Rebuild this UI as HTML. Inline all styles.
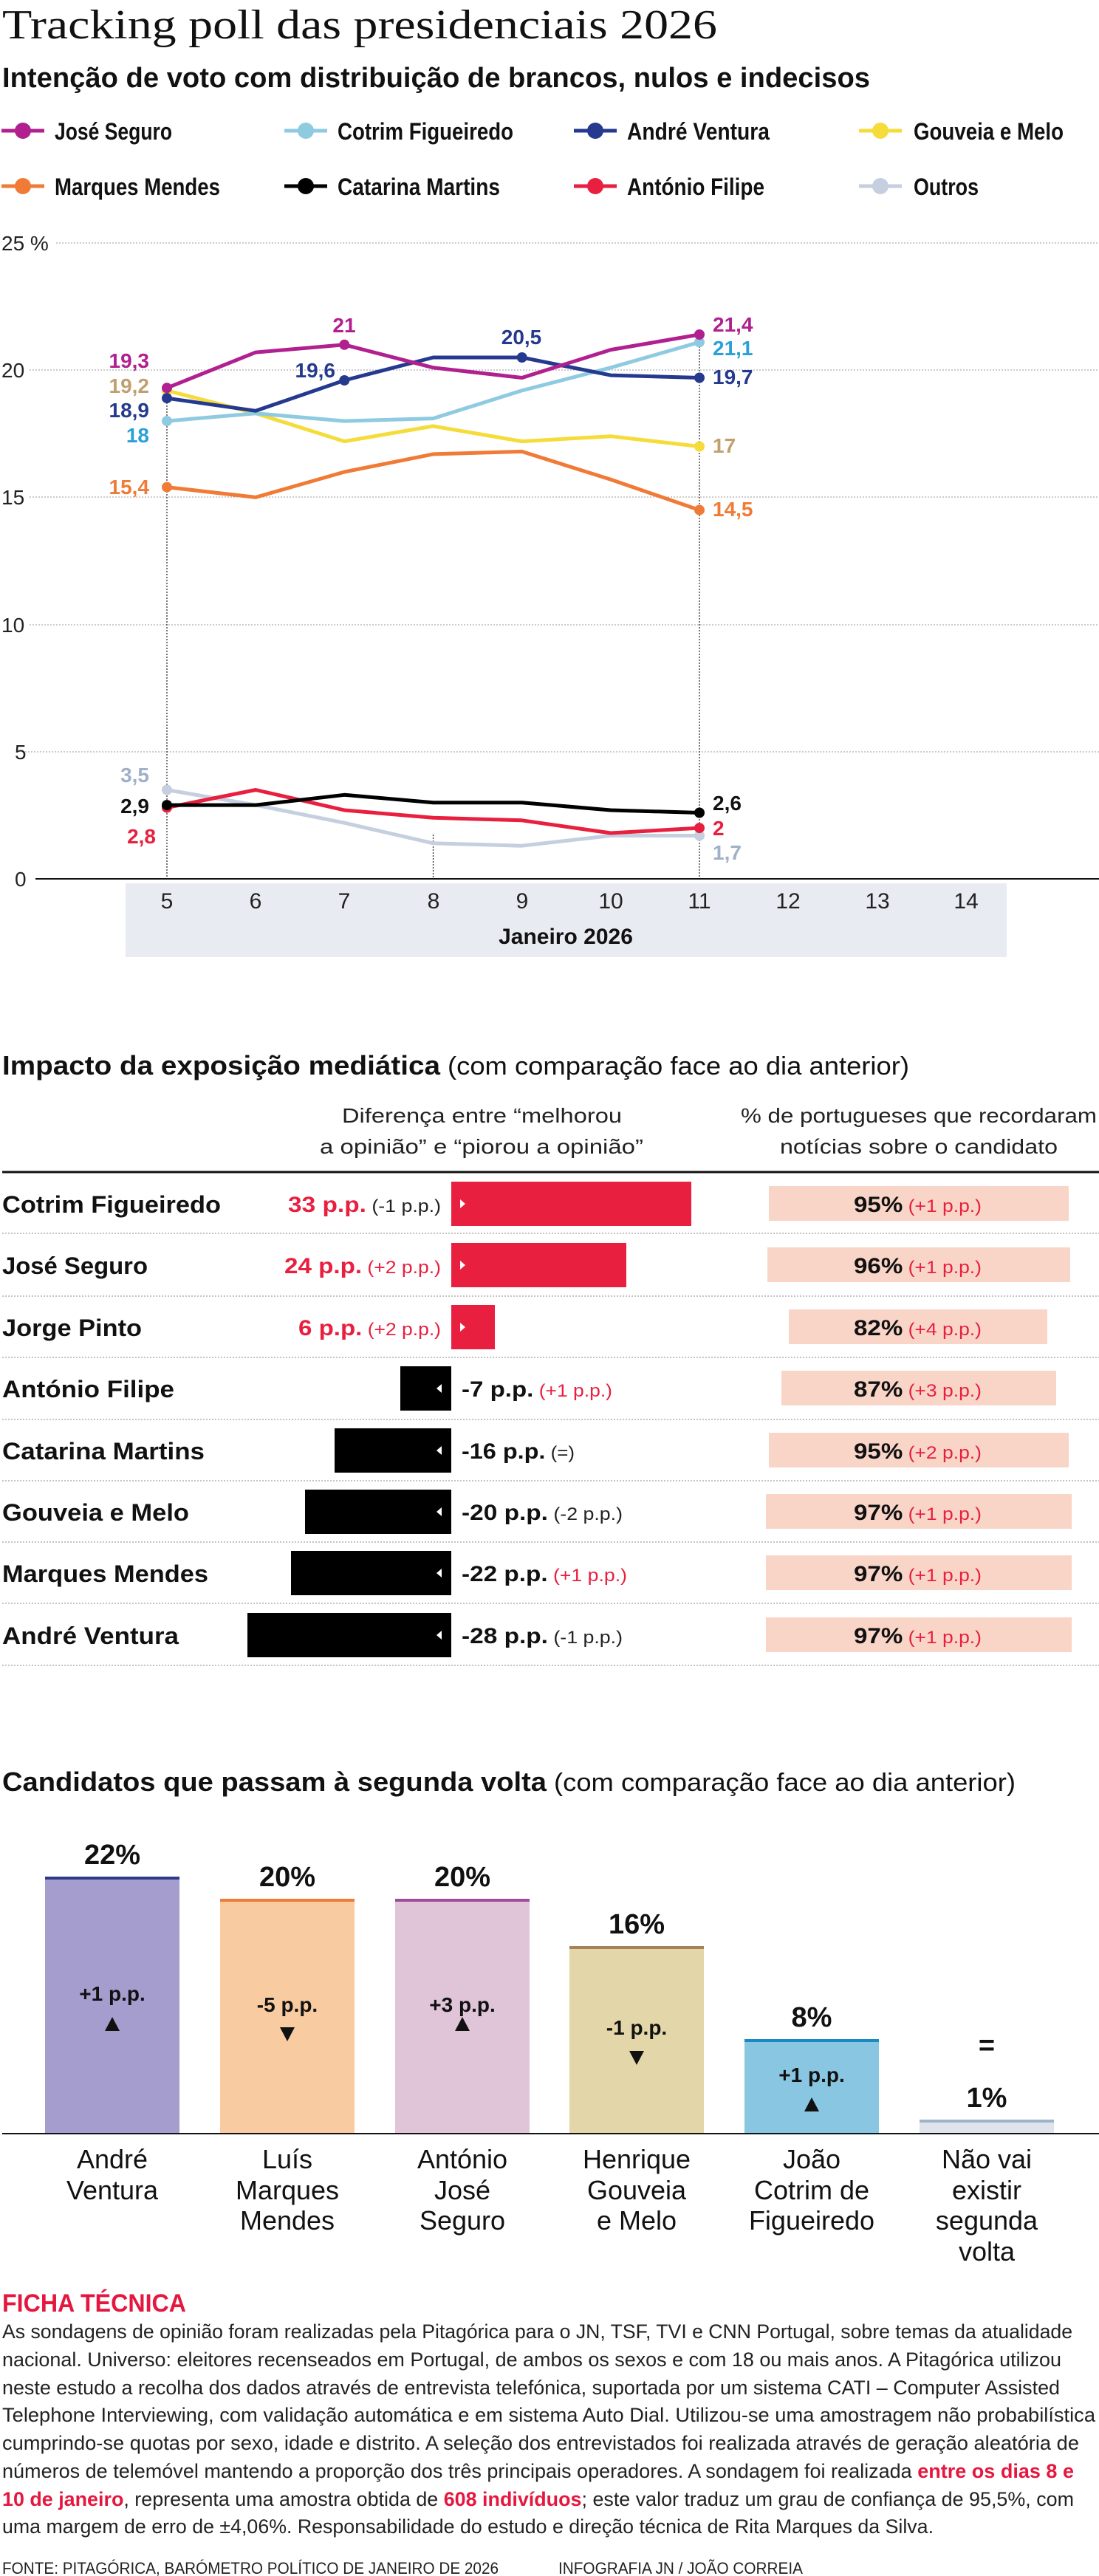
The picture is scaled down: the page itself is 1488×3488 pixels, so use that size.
<!DOCTYPE html>
<html><head><meta charset="utf-8"><style>
html,body{margin:0;padding:0;background:#fff}
svg{display:block}
text{font-family:"Liberation Sans",sans-serif}
.b{font-weight:bold}
</style></head><body>
<svg width="1488" height="3488" viewBox="0 0 1488 3488" xmlns="http://www.w3.org/2000/svg">
<!-- Titles -->
<text x="3" y="52" font-family="Liberation Serif" font-size="56" fill="#111" textLength="968" lengthAdjust="spacingAndGlyphs" style="font-family:'Liberation Serif',serif">Tracking poll das presidenciais 2026</text>
<text x="3" y="118" class="b" font-size="38" fill="#111" textLength="1175" lengthAdjust="spacingAndGlyphs">Intenção de voto com distribuição de brancos, nulos e indecisos</text>
<!-- Legend -->
<g stroke-width="5">
<line x1="2" y1="177" x2="60" y2="177" stroke="#b0208f"/><circle cx="31" cy="177" r="11" fill="#b0208f"/>
<line x1="385" y1="177" x2="443" y2="177" stroke="#8ecae0"/><circle cx="414" cy="177" r="11" fill="#8ecae0"/>
<line x1="777" y1="177" x2="835" y2="177" stroke="#253a8e"/><circle cx="806" cy="177" r="11" fill="#253a8e"/>
<line x1="1163" y1="177" x2="1221" y2="177" stroke="#f5dc3a"/><circle cx="1192" cy="177" r="11" fill="#f5dc3a"/>
<line x1="2" y1="252" x2="60" y2="252" stroke="#f07b36"/><circle cx="31" cy="252" r="11" fill="#f07b36"/>
<line x1="385" y1="252" x2="443" y2="252" stroke="#000"/><circle cx="414" cy="252" r="11" fill="#000"/>
<line x1="777" y1="252" x2="835" y2="252" stroke="#e81f3f"/><circle cx="806" cy="252" r="11" fill="#e81f3f"/>
<line x1="1163" y1="252" x2="1221" y2="252" stroke="#c5cfdf"/><circle cx="1192" cy="252" r="11" fill="#c5cfdf"/>
</g>
<g class="b" font-size="32" fill="#111">
<text x="74" y="189" textLength="159" lengthAdjust="spacingAndGlyphs">José Seguro</text>
<text x="457" y="189" textLength="238" lengthAdjust="spacingAndGlyphs">Cotrim Figueiredo</text>
<text x="849" y="189" textLength="193" lengthAdjust="spacingAndGlyphs">André Ventura</text>
<text x="1237" y="189" textLength="203" lengthAdjust="spacingAndGlyphs">Gouveia e Melo</text>
<text x="74" y="264" textLength="224" lengthAdjust="spacingAndGlyphs">Marques Mendes</text>
<text x="457" y="264" textLength="220" lengthAdjust="spacingAndGlyphs">Catarina Martins</text>
<text x="849" y="264" textLength="186" lengthAdjust="spacingAndGlyphs">António Filipe</text>
<text x="1237" y="264" textLength="88" lengthAdjust="spacingAndGlyphs">Outros</text>
</g>
<!-- Grid -->
<rect x="170" y="1196" width="1193" height="100" fill="#e8ecf2"/>
<g stroke="#999" stroke-width="1" stroke-dasharray="2,2">
<line x1="76" y1="329" x2="1488" y2="329"/>
<line x1="40" y1="501" x2="1488" y2="501"/>
<line x1="40" y1="673" x2="1488" y2="673"/>
<line x1="40" y1="846" x2="1488" y2="846"/>
<line x1="30" y1="1018" x2="1488" y2="1018"/>
</g>
<g stroke="#222" stroke-width="1.2" stroke-dasharray="2,2">
<line x1="226" y1="525" x2="226" y2="1190"/>
<line x1="586.5" y1="1130" x2="586.5" y2="1190"/>
<line x1="947" y1="453" x2="947" y2="1190"/>
</g>
<line x1="48" y1="1190" x2="1488" y2="1190" stroke="#111" stroke-width="2"/>
<g font-size="28" fill="#222">
<text x="2" y="339">25 %</text>
<text x="2" y="511">20</text>
<text x="2" y="683">15</text>
<text x="2" y="856">10</text>
<text x="20" y="1028">5</text>
<text x="20" y="1200">0</text>
</g>
<g font-size="30" fill="#222" text-anchor="middle">
<text x="226" y="1230">5</text><text x="346" y="1230">6</text><text x="466" y="1230">7</text><text x="587" y="1230">8</text><text x="707" y="1230">9</text><text x="827" y="1230">10</text><text x="947" y="1230">11</text><text x="1067" y="1230">12</text><text x="1188" y="1230">13</text><text x="1308" y="1230">14</text>
<text x="766" y="1278" class="b" font-size="30" fill="#111">Janeiro 2026</text>
</g>
<!-- Series -->
<g fill="none" stroke-width="5" stroke-linejoin="round">
<polyline stroke="#c5cfdf" points="226,1069.5 346.2,1090.1 466.3,1114.2 586.5,1141.8 706.7,1145.2 826.9,1131.5 947,1131.5"/>
<polyline stroke="#e81f3f" points="226,1093.6 346.2,1069.5 466.3,1097 586.5,1107.3 706.7,1110.8 826.9,1128 947,1121.1"/>
<polyline stroke="#000" points="226,1090.1 346.2,1090.1 466.3,1076.3 586.5,1086.7 706.7,1086.7 826.9,1097 947,1100.5"/>
<polyline stroke="#f07b36" points="226,659.6 346.2,673.4 466.3,639 586.5,614.9 706.7,611.4 826.9,649.3 947,690.6"/>
<polyline stroke="#f5dc3a" points="226,528.8 346.2,559.7 466.3,597.6 586.5,577 706.7,597.6 826.9,590.7 947,604.5"/>
<polyline stroke="#8ecae0" points="226,570.1 346.2,559.7 466.3,570.1 586.5,566.6 706.7,528.8 826.9,497.8 947,463.3"/>
<polyline stroke="#253a8e" points="226,539.1 346.2,556.3 466.3,515 586.5,484 706.7,484 826.9,508.1 947,511.5"/>
<polyline stroke="#b0208f" points="226,525.3 346.2,477.1 466.3,466.8 586.5,497.8 706.7,511.5 826.9,473.6 947,453"/>
</g>
<g>
<circle cx="226" cy="1069.5" r="7" fill="#c5cfdf"/><circle cx="947" cy="1131.5" r="7" fill="#c5cfdf"/>
<circle cx="226" cy="1093.6" r="7" fill="#e81f3f"/><circle cx="947" cy="1121.1" r="7" fill="#e81f3f"/>
<circle cx="226" cy="1090.1" r="7" fill="#000"/><circle cx="947" cy="1100.5" r="7" fill="#000"/>
<circle cx="226" cy="659.6" r="7" fill="#f07b36"/><circle cx="947" cy="690.6" r="7" fill="#f07b36"/>
<circle cx="226" cy="528.8" r="7" fill="#f5dc3a"/><circle cx="947" cy="604.5" r="7" fill="#f5dc3a"/>
<circle cx="226" cy="570.1" r="7" fill="#8ecae0"/><circle cx="947" cy="463.3" r="7" fill="#8ecae0"/>
<circle cx="226" cy="539.1" r="7" fill="#253a8e"/><circle cx="466.3" cy="515" r="7" fill="#253a8e"/><circle cx="706.7" cy="484" r="7" fill="#253a8e"/><circle cx="947" cy="511.5" r="7" fill="#253a8e"/>
<circle cx="226" cy="525.3" r="7" fill="#b0208f"/><circle cx="466.3" cy="466.8" r="7" fill="#b0208f"/><circle cx="947" cy="453" r="7" fill="#b0208f"/>
</g>
<g class="b" font-size="28">
<g text-anchor="end">
<text x="202" y="498" fill="#b0208f">19,3</text>
<text x="202" y="532" fill="#c0a070">19,2</text>
<text x="202" y="565" fill="#253a8e">18,9</text>
<text x="202" y="599" fill="#2aa0d8">18</text>
<text x="202" y="669" fill="#f07b36">15,4</text>
<text x="202" y="1059" fill="#9fb0c8">3,5</text>
<text x="202" y="1101" fill="#111">2,9</text>
<text x="211" y="1142" fill="#e81f3f">2,8</text>
<text x="454" y="511" fill="#253a8e">19,6</text>
</g>
<text x="466" y="450" text-anchor="middle" fill="#b0208f">21</text>
<text x="706" y="466" text-anchor="middle" fill="#253a8e">20,5</text>
<text x="965" y="449" fill="#b0208f">21,4</text>
<text x="965" y="481" fill="#2aa0d8">21,1</text>
<text x="965" y="520" fill="#253a8e">19,7</text>
<text x="965" y="613" fill="#c0a070">17</text>
<text x="965" y="699" fill="#f07b36">14,5</text>
<text x="965" y="1097" fill="#111">2,6</text>
<text x="965" y="1131" fill="#e81f3f">2</text>
<text x="965" y="1164" fill="#9fb0c8">1,7</text>
</g>

<!-- Section 2 -->
<text x="3" y="1455" class="b" font-size="36" fill="#111" textLength="593" lengthAdjust="spacingAndGlyphs">Impacto da exposição mediática</text>
<text x="606" y="1455" font-size="34" fill="#111" textLength="625" lengthAdjust="spacingAndGlyphs">(com comparação face ao dia anterior)</text>
<g font-size="28" fill="#222">
<text x="463" y="1520" textLength="379" lengthAdjust="spacingAndGlyphs">Diferença entre “melhorou</text>
<text x="433" y="1562" textLength="438" lengthAdjust="spacingAndGlyphs">a opinião” e “piorou a opinião”</text>
<text x="1003" y="1520" textLength="482" lengthAdjust="spacingAndGlyphs">% de portugueses que recordaram</text>
<text x="1056" y="1562" textLength="376" lengthAdjust="spacingAndGlyphs">notícias sobre o candidato</text>
</g>
<line x1="3" y1="1587" x2="1488" y2="1587" stroke="#111" stroke-width="3"/>
<g stroke="#888" stroke-width="1" stroke-dasharray="2,2">
<line x1="3" y1="1670" x2="1488" y2="1670"/><line x1="3" y1="1755" x2="1488" y2="1755"/><line x1="3" y1="1838" x2="1488" y2="1838"/><line x1="3" y1="1922" x2="1488" y2="1922"/><line x1="3" y1="2005" x2="1488" y2="2005"/><line x1="3" y1="2088" x2="1488" y2="2088"/><line x1="3" y1="2171" x2="1488" y2="2171"/><line x1="3" y1="2255" x2="1488" y2="2255"/>
</g>
<!-- bars -->
<rect x="611" y="1600" width="325" height="60" fill="#e81f3f"/>
<rect x="611" y="1683" width="237" height="60" fill="#e81f3f"/>
<rect x="611" y="1767" width="59" height="60" fill="#e81f3f"/>
<rect x="542" y="1850" width="69" height="60" fill="#000"/>
<rect x="453" y="1934" width="158" height="60" fill="#000"/>
<rect x="413" y="2017" width="198" height="60" fill="#000"/>
<rect x="394" y="2100" width="217" height="60" fill="#000"/>
<rect x="335" y="2184" width="276" height="60" fill="#000"/>
<g fill="#fff">
<polygon points="623,1624 623,1636 630,1630"/><polygon points="623,1707 623,1719 630,1713"/><polygon points="623,1791 623,1803 630,1797"/>
<polygon points="598,1874 598,1886 591,1880"/><polygon points="598,1958 598,1970 591,1964"/><polygon points="598,2041 598,2053 591,2047"/><polygon points="598,2124 598,2136 591,2130"/><polygon points="598,2208 598,2220 591,2214"/>
</g>
<g class="b" font-size="32" fill="#111">
<text x="3" y="1642" textLength="296" lengthAdjust="spacingAndGlyphs">Cotrim Figueiredo</text>
<text x="3" y="1725" textLength="197" lengthAdjust="spacingAndGlyphs">José Seguro</text>
<text x="3" y="1809" textLength="189" lengthAdjust="spacingAndGlyphs">Jorge Pinto</text>
<text x="3" y="1892" textLength="233" lengthAdjust="spacingAndGlyphs">António Filipe</text>
<text x="3" y="1976" textLength="274" lengthAdjust="spacingAndGlyphs">Catarina Martins</text>
<text x="3" y="2059" textLength="253" lengthAdjust="spacingAndGlyphs">Gouveia e Melo</text>
<text x="3" y="2142" textLength="279" lengthAdjust="spacingAndGlyphs">Marques Mendes</text>
<text x="3" y="2226" textLength="239" lengthAdjust="spacingAndGlyphs">André Ventura</text>
</g>
<g font-size="30">
<text x="390" y="1641" textLength="207" lengthAdjust="spacingAndGlyphs"><tspan class="b" fill="#e81f3f">33 p.p.</tspan><tspan font-size="24" fill="#222"> (-1 p.p.)</tspan></text>
<text x="385" y="1724" textLength="212" lengthAdjust="spacingAndGlyphs"><tspan class="b" fill="#e81f3f">24 p.p.</tspan><tspan font-size="24" fill="#e81f3f"> (+2 p.p.)</tspan></text>
<text x="404" y="1808" textLength="193" lengthAdjust="spacingAndGlyphs"><tspan class="b" fill="#e81f3f">6 p.p.</tspan><tspan font-size="24" fill="#e81f3f"> (+2 p.p.)</tspan></text>
<text x="625" y="1891" textLength="204" lengthAdjust="spacingAndGlyphs"><tspan class="b" fill="#111">-7 p.p.</tspan><tspan font-size="24" fill="#e81f3f"> (+1 p.p.)</tspan></text>
<text x="625" y="1975" textLength="153" lengthAdjust="spacingAndGlyphs"><tspan class="b" fill="#111">-16 p.p.</tspan><tspan font-size="24" fill="#222"> (=)</tspan></text>
<text x="625" y="2058" textLength="218" lengthAdjust="spacingAndGlyphs"><tspan class="b" fill="#111">-20 p.p.</tspan><tspan font-size="24" fill="#222"> (-2 p.p.)</tspan></text>
<text x="625" y="2141" textLength="224" lengthAdjust="spacingAndGlyphs"><tspan class="b" fill="#111">-22 p.p.</tspan><tspan font-size="24" fill="#e81f3f"> (+1 p.p.)</tspan></text>
<text x="625" y="2225" textLength="218" lengthAdjust="spacingAndGlyphs"><tspan class="b" fill="#111">-28 p.p.</tspan><tspan font-size="24" fill="#222"> (-1 p.p.)</tspan></text>
</g>
<g fill="#f9d5c8">
<rect x="1041" y="1606" width="406" height="47"/>
<rect x="1039" y="1689" width="410" height="47"/>
<rect x="1068" y="1773" width="350" height="47"/>
<rect x="1058" y="1856" width="372" height="47"/>
<rect x="1041" y="1940" width="406" height="47"/>
<rect x="1037" y="2023" width="414" height="47"/>
<rect x="1037" y="2106" width="414" height="47"/>
<rect x="1037" y="2190" width="414" height="47"/>
</g>
<g font-size="30">
<text x="1156" y="1641" textLength="173" lengthAdjust="spacingAndGlyphs"><tspan class="b" fill="#111">95%</tspan><tspan font-size="24" fill="#e81f3f"> (+1 p.p.)</tspan></text>
<text x="1156" y="1724" textLength="173" lengthAdjust="spacingAndGlyphs"><tspan class="b" fill="#111">96%</tspan><tspan font-size="24" fill="#e81f3f"> (+1 p.p.)</tspan></text>
<text x="1156" y="1808" textLength="173" lengthAdjust="spacingAndGlyphs"><tspan class="b" fill="#111">82%</tspan><tspan font-size="24" fill="#e81f3f"> (+4 p.p.)</tspan></text>
<text x="1156" y="1891" textLength="173" lengthAdjust="spacingAndGlyphs"><tspan class="b" fill="#111">87%</tspan><tspan font-size="24" fill="#e81f3f"> (+3 p.p.)</tspan></text>
<text x="1156" y="1975" textLength="173" lengthAdjust="spacingAndGlyphs"><tspan class="b" fill="#111">95%</tspan><tspan font-size="24" fill="#e81f3f"> (+2 p.p.)</tspan></text>
<text x="1156" y="2058" textLength="173" lengthAdjust="spacingAndGlyphs"><tspan class="b" fill="#111">97%</tspan><tspan font-size="24" fill="#e81f3f"> (+1 p.p.)</tspan></text>
<text x="1156" y="2141" textLength="173" lengthAdjust="spacingAndGlyphs"><tspan class="b" fill="#111">97%</tspan><tspan font-size="24" fill="#e81f3f"> (+1 p.p.)</tspan></text>
<text x="1156" y="2225" textLength="173" lengthAdjust="spacingAndGlyphs"><tspan class="b" fill="#111">97%</tspan><tspan font-size="24" fill="#e81f3f"> (+1 p.p.)</tspan></text>
</g>

<!-- Section 3 -->
<text x="3" y="2425" class="b" font-size="36" fill="#111" textLength="737" lengthAdjust="spacingAndGlyphs">Candidatos que passam à segunda volta</text>
<text x="750" y="2425" font-size="34" fill="#111" textLength="625" lengthAdjust="spacingAndGlyphs">(com comparação face ao dia anterior)</text>
<rect x="61" y="2543" width="182" height="346" fill="#a59dce"/><rect x="61" y="2541" width="182" height="4" fill="#2e3a8c"/>
<rect x="298" y="2573" width="182" height="316" fill="#f9cba0"/><rect x="298" y="2571" width="182" height="4" fill="#f07b36"/>
<rect x="535" y="2573" width="182" height="316" fill="#e0c4d8"/><rect x="535" y="2571" width="182" height="4" fill="#a04c9c"/>
<rect x="771" y="2637" width="182" height="252" fill="#e3d7a9"/><rect x="771" y="2635" width="182" height="4" fill="#a8805a"/>
<rect x="1008" y="2763" width="182" height="126" fill="#88c6e2"/><rect x="1008" y="2761" width="182" height="4" fill="#1a8ac0"/>
<rect x="1245" y="2872" width="182" height="17" fill="#dfe4ec"/><rect x="1245" y="2870" width="182" height="4" fill="#9fb3cc"/>
<line x1="3" y1="2889" x2="1488" y2="2889" stroke="#111" stroke-width="2"/>
<g class="b" font-size="38" fill="#111" text-anchor="middle">
<text x="152" y="2524">22%</text>
<text x="389" y="2554">20%</text>
<text x="626" y="2554">20%</text>
<text x="862" y="2618">16%</text>
<text x="1099" y="2744">8%</text>
<text x="1336" y="2782">=</text>
<text x="1336" y="2853">1%</text>
</g>
<g class="b" font-size="28" fill="#111" text-anchor="middle">
<text x="152" y="2709">+1 p.p.</text>
<text x="389" y="2724">-5 p.p.</text>
<text x="626" y="2724">+3 p.p.</text>
<text x="862" y="2755">-1 p.p.</text>
<text x="1099" y="2819">+1 p.p.</text>
</g>
<g fill="#111">
<polygon points="142,2750 162,2750 152,2731"/>
<polygon points="379,2745 399,2745 389,2764"/>
<polygon points="616,2750 636,2750 626,2731"/>
<polygon points="852,2777 872,2777 862,2796"/>
<polygon points="1089,2859 1109,2859 1099,2840"/>
</g>
<g font-size="36" fill="#111" text-anchor="middle">
<text x="152" y="2936">André</text><text x="152" y="2978">Ventura</text>
<text x="389" y="2936">Luís</text><text x="389" y="2978">Marques</text><text x="389" y="3019">Mendes</text>
<text x="626" y="2936">António</text><text x="626" y="2978">José</text><text x="626" y="3019">Seguro</text>
<text x="862" y="2936">Henrique</text><text x="862" y="2978">Gouveia</text><text x="862" y="3019">e Melo</text>
<text x="1099" y="2936">João</text><text x="1099" y="2978">Cotrim de</text><text x="1099" y="3019">Figueiredo</text>
<text x="1336" y="2936">Não vai</text><text x="1336" y="2978">existir</text><text x="1336" y="3019">segunda</text><text x="1336" y="3061">volta</text>
</g>
<text x="3" y="3130" class="b" font-size="34" fill="#e5173f" textLength="249" lengthAdjust="spacingAndGlyphs">FICHA TÉCNICA</text>
<g font-size="27" fill="#222">
<text x="3" y="3166" textLength="1449" lengthAdjust="spacingAndGlyphs">As sondagens de opinião foram realizadas pela Pitagórica para o JN, TSF, TVI e CNN Portugal, sobre temas da atualidade</text>
<text x="3" y="3204" textLength="1434" lengthAdjust="spacingAndGlyphs">nacional. Universo: eleitores recenseados em Portugal, de ambos os sexos e com 18 ou mais anos. A Pitagórica utilizou</text>
<text x="3" y="3242" textLength="1432" lengthAdjust="spacingAndGlyphs">neste estudo a recolha dos dados através de entrevista telefónica, suportada por um sistema CATI – Computer Assisted</text>
<text x="3" y="3279" textLength="1480" lengthAdjust="spacingAndGlyphs">Telephone Interviewing, com validação automática e em sistema Auto Dial. Utilizou-se uma amostragem não probabilística</text>
<text x="3" y="3317" textLength="1458" lengthAdjust="spacingAndGlyphs">cumprindo-se quotas por sexo, idade e distrito. A seleção dos entrevistados foi realizada através de geração aleatória de</text>
<text x="3" y="3355" textLength="1451" lengthAdjust="spacingAndGlyphs">números de telemóvel mantendo a proporção dos três principais operadores. A sondagem foi realizada <tspan class="b" fill="#e5173f">entre os dias 8 e</tspan></text>
<text x="3" y="3393" textLength="1451" lengthAdjust="spacingAndGlyphs"><tspan class="b" fill="#e5173f">10 de janeiro</tspan>, representa uma amostra obtida de <tspan class="b" fill="#e5173f">608 indivíduos</tspan>; este valor traduz um grau de confiança de 95,5%, com</text>
<text x="3" y="3430" textLength="1261" lengthAdjust="spacingAndGlyphs">uma margem de erro de ±4,06%. Responsabilidade do estudo e direção técnica de Rita Marques da Silva.</text>
</g>
<g font-size="22" fill="#222">
<text x="3" y="3485" textLength="672" lengthAdjust="spacingAndGlyphs">FONTE: PITAGÓRICA, BARÓMETRO POLÍTICO DE JANEIRO DE 2026</text>
<text x="756" y="3485" textLength="331" lengthAdjust="spacingAndGlyphs">INFOGRAFIA JN / JOÃO CORREIA</text>
</g>
</svg>
</body></html>
